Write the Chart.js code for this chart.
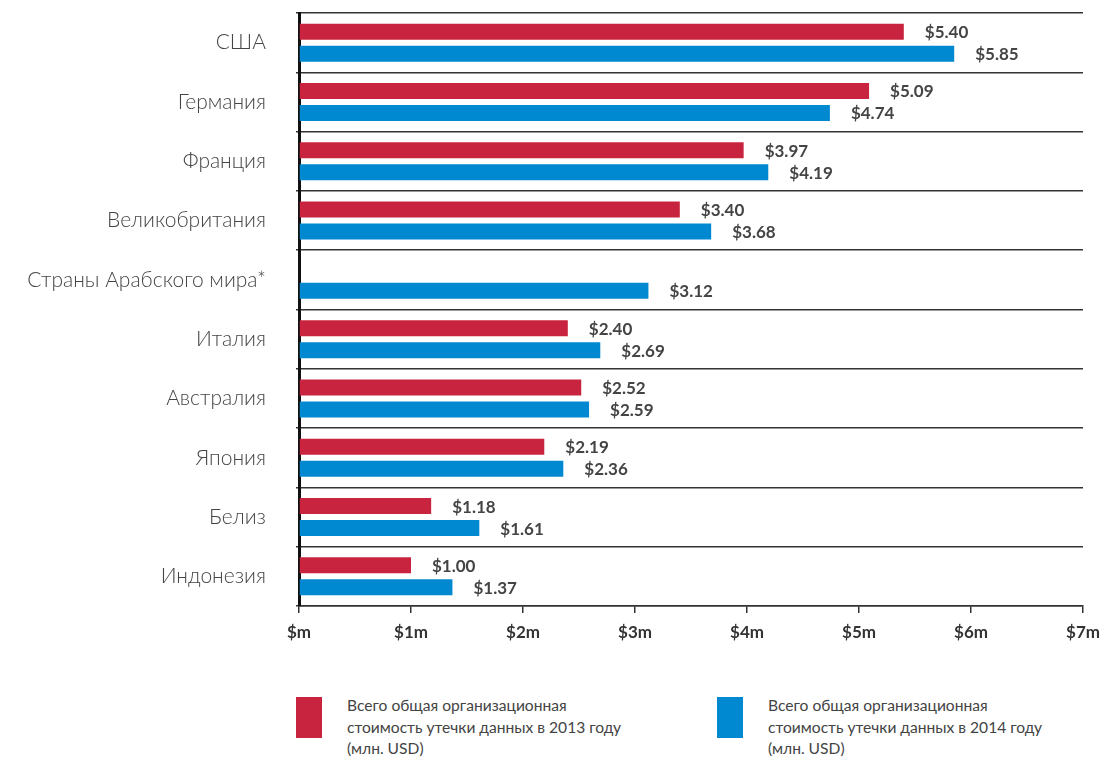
<!DOCTYPE html>
<html lang="ru">
<head>
<meta charset="utf-8">
<script src="https://cdn.jsdelivr.net/npm/chart.js@4.4.1/dist/chart.umd.min.js"></script>
<style>
  html, body { margin: 0; padding: 0; background: #fff; }
  #wrap { position: relative; width: 1104px; height: 660px; }
  #legenda { position: relative; width: 1104px; height: 100px; font-family: Lato, "Noto Sans", sans-serif; color: #444; }
  .item { position: absolute; top: 37px; }
  .item .caja { position: absolute; left: 0; top: 0; width: 26px; height: 41px; }
  .item .texto { position: absolute; left: 51px; top: -2px; width: 340px; font-size: 15.6px; line-height: 21.5px; }
</style>
</head>
<body>
<div id="wrap"><canvas id="canvasGrafica" width="1104" height="660"></canvas></div>
<div id="legenda"></div>
<script>
const paises = ["США", "Германия", "Франция", "Великобритания", "Страны Арабского мира*",
                "Италия", "Австралия", "Япония", "Белиз", "Индонезия"];
const costo2013 = [5.40, 5.09, 3.97, 3.40, null, 2.40, 2.52, 2.19, 1.18, 1.00];
const costo2014 = [5.85, 4.74, 4.19, 3.68, 3.12, 2.69, 2.59, 2.36, 1.61, 1.37];
const etiquetasEje = ["$m", "$1m", "$2m", "$3m", "$4m", "$5m", "$6m", "$7m"];
const leyenda = [
    "Всего общая организационная стоимость утечки данных в 2013 году (млн. USD)",
    "Всего общая организационная стоимость утечки данных в 2014 году (млн. USD)"
];
const colores = ["#C8243F", "#0088D1"];

const fuente = 'Lato, "Noto Sans", sans-serif';

// escribe el valor de cada barra a la derecha de su extremo
const valoresBarras = {
    id: "valoresBarras",
    afterDatasetsDraw(chart) {
        const ctx = chart.ctx;
        ctx.save();
        ctx.font = "bold 17px " + fuente;
        ctx.fillStyle = "#444";
        ctx.textAlign = "left";
        ctx.textBaseline = "middle";
        chart.data.datasets.forEach((ds, i) => {
            chart.getDatasetMeta(i).data.forEach((barra, j) => {
                const v = ds.data[j];
                if (v === null) return;
                ctx.fillText("$" + v.toFixed(2), barra.x + 21, barra.y + 1);
            });
        });
        ctx.restore();
    }
};

function createChart() {
    const ctx = document.getElementById("canvasGrafica").getContext("2d");
    new Chart(ctx, {
        type: "bar",
        data: {
            labels: paises,
            datasets: [
                { label: leyenda[0], data: costo2013, backgroundColor: colores[0] },
                { label: leyenda[1], data: costo2014, backgroundColor: colores[1] }
            ]
        },
        options: {
            indexAxis: "y",
            responsive: false,
            animation: false,
            categoryPercentage: 0.742,
            barPercentage: 0.727,
            layout: { padding: { top: 13, right: 21, left: 0, bottom: 0 } },
            plugins: { legend: { display: false }, tooltip: { enabled: false } },
            scales: {
                x: {
                    min: 0, max: 7,
                    afterFit: s => { s.height = 54; s.paddingLeft = 0; s.paddingRight = 0; },
                    border: { display: true, color: "#333", width: 1.5 },
                    grid: { drawOnChartArea: false, drawTicks: true, tickLength: 7, color: "#333", lineWidth: 1.5 },
                    ticks: {
                        stepSize: 1, padding: 9,
                        color: "#333",
                        font: { family: fuente, size: 17, weight: "bold" },
                        callback: v => etiquetasEje[v]
                    }
                },
                y: {
                    afterFit: s => { s.width = 299; s.paddingTop = 0; s.paddingBottom = 0; },
                    offset: true,
                    border: { display: true, color: "#111", width: 3 },
                    grid: { offset: true, color: "#333", lineWidth: 1.5, tickLength: 3 },
                    ticks: {
                        padding: 30,
                        color: "#444",
                        font: { family: fuente, size: 21, weight: "300" },
                        callback: (v, i) => paises[i]
                    }
                }
            }
        },
        plugins: [valoresBarras]
    });

    // leyenda en HTML, dos columnas con caja de color
    const cont = document.getElementById("legenda");
    const posX = [296, 717];
    leyenda.forEach((txt, i) => {
        const d = document.createElement("div");
        d.className = "item";
        d.style.left = posX[i] + "px";
        d.innerHTML = `<div class="caja" style="background:${colores[i]}"></div>` +
            `<div class="texto">${txt.replace(" стоимость", "<br>стоимость").replace(" (млн", "<br>(млн")}</div>`;
        cont.appendChild(d);
    });
}

createChart();
</script>
</body>
</html>
